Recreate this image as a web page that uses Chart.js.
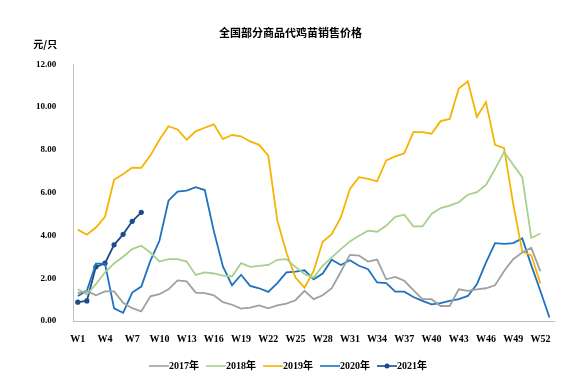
<!DOCTYPE html>
<html>
<head>
<meta charset="utf-8">
<script src="https://cdn.jsdelivr.net/npm/chart.js@4/dist/chart.umd.min.js"></script>
<style>
  html, body { margin: 0; padding: 0; background: #fff; }
  #wrap { width: 580px; height: 389px; }
</style>
</head>
<body>
<div id="wrap"><canvas id="chart1" width="580" height="389"></canvas></div>
<script>
// weeks W1..W53
var weeks = [];
for (var w = 1; w <= 53; w++) weeks.push('W' + w);

var y2017 = [1.30, 1.40, 1.20, 1.38, 1.38, 0.85, 0.60, 0.45, 1.15, 1.25, 1.48, 1.90, 1.85, 1.33, 1.30, 1.20, 0.88, 0.76, 0.58, 0.62,
  0.73, 0.59, 0.73, 0.81, 0.97, 1.41, 1.02, 1.20, 1.53, 2.30, 3.09, 3.06, 2.78, 2.87, 1.95, 2.06, 1.88, 1.44, 1.02, 1.02,
  0.70, 0.70, 1.48, 1.41, 1.48, 1.53, 1.67, 2.34, 2.89, 3.20, 3.42, 2.32];
var y2018 = [1.48, 1.25, 1.72, 2.27, 2.69, 3.00, 3.36, 3.52, 3.20, 2.78, 2.89, 2.89, 2.78, 2.15, 2.27, 2.22, 2.12, 2.08, 2.70, 2.53,
  2.58, 2.62, 2.86, 2.89, 2.53, 2.19, 2.03, 2.58, 2.97, 3.36, 3.72, 3.98, 4.22, 4.17, 4.45, 4.87, 4.97, 4.42, 4.42, 5.00,
  5.28, 5.39, 5.55, 5.90, 6.02, 6.36, 7.10, 7.90, 7.30, 6.72, 3.88, 4.09];
var y2019 = [4.27, 4.03, 4.37, 4.87, 6.60, 6.87, 7.17, 7.16, 7.73, 8.47, 9.10, 8.95, 8.47, 8.86, 9.03, 9.19, 8.50, 8.69, 8.63, 8.39,
  8.23, 7.73, 4.69, 3.20, 2.03, 1.56, 2.34, 3.70, 4.06, 4.84, 6.17, 6.72, 6.64, 6.53, 7.50, 7.69, 7.84, 8.83, 8.83, 8.75,
  9.34, 9.44, 10.86, 11.20, 9.53, 10.23, 8.23, 8.08, 5.47, 3.25, 3.07, 1.75];
var y2020 = [1.17, 1.41, 2.68, 2.68, 0.59, 0.38, 1.33, 1.61, 2.81, 3.75, 5.62, 6.05, 6.09, 6.25, 6.12, 4.20, 2.55, 1.67, 2.16, 1.64,
  1.53, 1.36, 1.77, 2.27, 2.31, 2.37, 1.95, 2.22, 2.86, 2.62, 2.84, 2.58, 2.42, 1.80, 1.77, 1.37, 1.37, 1.12, 0.94, 0.78,
  0.83, 0.94, 1.02, 1.17, 1.72, 2.73, 3.64, 3.60, 3.64, 3.86, 2.60, 1.40, 0.16];
var y2021 = [0.88, 0.94, 2.53, 2.70, 3.56, 4.05, 4.66, 5.08];

var yTicks = [0, 2, 4, 6, 8, 10, 12];

var serif = '"Liberation Serif", "Times New Roman", "Noto Sans CJK SC", serif';

function legendIcon(color, dot) {
  var c = document.createElement('canvas');
  c.width = 20; c.height = 8;
  var g = c.getContext('2d');
  g.strokeStyle = color;
  g.lineWidth = 1.6;
  g.beginPath(); g.moveTo(0, 4); g.lineTo(20, 4); g.stroke();
  if (dot) {
    g.fillStyle = color;
    g.beginPath(); g.arc(10, 4, 2.5, 0, Math.PI * 2); g.fill();
  }
  return c;
}

var unitLabel = {
  id: 'unitLabel',
  afterDraw: function (chart) {
    var ctx = chart.ctx;
    ctx.save();
    ctx.font = 'bold 10px "Noto Sans CJK SC", sans-serif';
    ctx.fillStyle = '#000';
    ctx.textAlign = 'center';
    ctx.textBaseline = 'middle';
    ctx.fillText('元/只', chart.chartArea.left - 28, chart.chartArea.top - 20);
    ctx.restore();
  }
};

var series = [
  { label: '2017年', data: y2017, color: '#a0a0a0', dot: false },
  { label: '2018年', data: y2018, color: '#a8d08d', dot: false },
  { label: '2019年', data: y2019, color: '#f5b400', dot: false },
  { label: '2020年', data: y2020, color: '#1f72c0', dot: false },
  { label: '2021年', data: y2021, color: '#1b4b8a', dot: true }
];

var chart1 = new Chart(document.getElementById('chart1'), {
  type: 'line',
  data: {
    labels: weeks,
    datasets: series.map(function (s) {
      return {
        label: s.label,
        data: s.data,
        borderColor: s.color,
        backgroundColor: s.color,
        borderWidth: 1.8,
        pointRadius: s.dot ? 2.6 : 0,
        pointStyle: 'circle',
        pointBackgroundColor: s.color,
        pointBorderWidth: 0,
        tension: 0,
        fill: false
      };
    })
  },
  options: {
    responsive: false,
    animation: false,
    layout: { padding: { left: 27, right: 26, top: 6, bottom: 8 } },
    plugins: {
      title: {
        display: true,
        text: '全国部分商品代鸡苗销售价格',
        color: '#000',
        font: { family: '"Noto Sans CJK SC", sans-serif', size: 11, weight: 'bold' },
        padding: { top: 20, bottom: 25 }
      },
      legend: {
        position: 'bottom',
        labels: {
          usePointStyle: true,
          color: '#000',
          font: { family: serif, size: 10, weight: 'bold' },
          padding: 12,
          generateLabels: function (chart) {
            return chart.data.datasets.map(function (ds, i) {
              return {
                text: ds.label,
                fillStyle: ds.borderColor,
                strokeStyle: ds.borderColor,
                lineWidth: 0,
                pointStyle: legendIcon(ds.borderColor, series[i].dot),
                datasetIndex: i,
                hidden: false
              };
            });
          }
        }
      },
      tooltip: { enabled: false }
    },
    scales: {
      x: {
        offset: true,
        grid: { display: false },
        border: { color: '#bfbfbf', width: 1 },
        ticks: {
          autoSkip: false,
          maxRotation: 0,
          color: '#000',
          font: { family: serif, size: 10, weight: 'bold' },
          padding: 4,
          callback: function (v, i) { return i % 3 === 0 ? weeks[i] : ''; }
        }
      },
      y: {
        min: 0,
        max: 12,
        grid: { display: false },
        border: { color: '#bfbfbf', width: 1 },
        afterBuildTicks: function (axis) {
          axis.ticks = yTicks.map(function (v) { return { value: v }; });
        },
        ticks: {
          color: '#000',
          font: { family: serif, size: 9, weight: 'bold' },
          padding: 9,
          callback: function (v) { return v.toFixed(2); }
        }
      }
    }
  },
  plugins: [unitLabel]
});
</script>
</body>
</html>
